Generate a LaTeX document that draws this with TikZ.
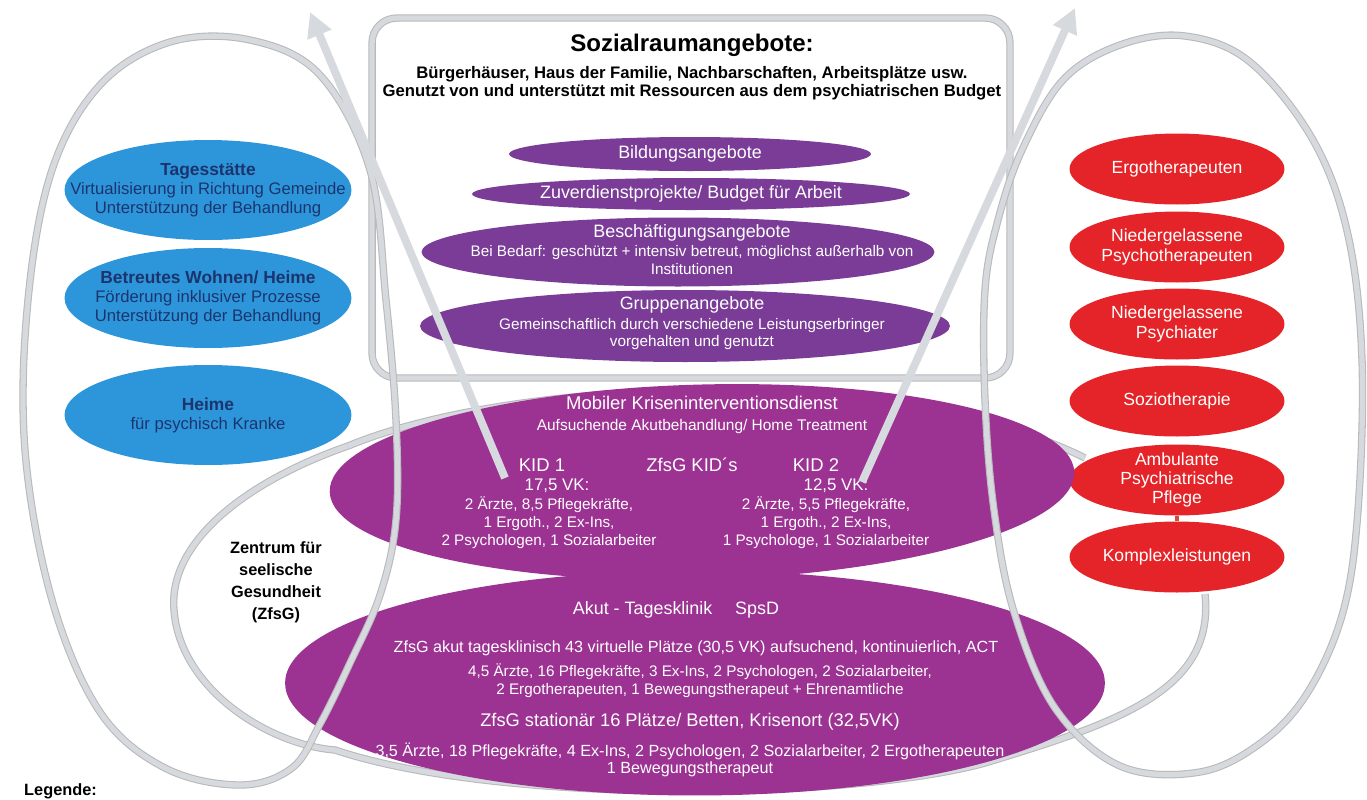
\documentclass[tikz,border=0pt]{standalone}
\usepackage{fontspec}
\setmainfont{Liberation Sans}
\usepackage{tikz}
\usetikzlibrary{arrows.meta,shapes.geometric}

\definecolor{zblue}{RGB}{45,150,218}
\definecolor{znavy}{RGB}{28,52,110}
\definecolor{zred}{RGB}{228,36,40}
\definecolor{zviolet}{RGB}{122,60,150}
\definecolor{zmagenta}{RGB}{156,50,146}
\definecolor{zgrey}{RGB}{214,217,222}

\newcommand{\zfont}[2]{\fontsize{#1}{#2}\selectfont}

\begin{document}
\begin{tikzpicture}[x=0.02cm, y=-0.02cm,
  band/.style={draw=gray!55, line width=0.6pt, double=zgrey, double distance=3pt},
  uparr/.style={draw=zgrey, line width=4.5pt, -{Triangle[width=14pt,length=14pt]}},
  blueell/.style={ellipse, fill=zblue, inner sep=0pt, minimum width=5.74cm, minimum height=2cm},
  redell/.style={ellipse, fill=zred, inner sep=0pt, minimum width=4.3cm, minimum height=1.42cm,
                 text=white, align=center, font=\zfont{10}{11.5}},
  violetell/.style={ellipse, fill=zviolet, inner sep=0pt, text=white, font=\zfont{10.2}{11.5}},
  bigell/.style={ellipse, fill=zmagenta, inner sep=0pt},
  bluetxt/.style={text=znavy, align=center, font=\zfont{9.5}{10.8}},
  redtxt/.style={text=white, align=center, font=\zfont{10}{11.5}},
  wtxt/.style={text=white, align=center, font=\zfont{8.7}{10.2}},
  wbig/.style={text=white, align=center, font=\zfont{10.2}{11.5}},
  btxt/.style={text=black, align=center, font=\bfseries\zfont{9.3}{12.5}},
]
\useasboundingbox (0,0) rectangle (1367,799);

%% ===== ZfsG boundary (behind the ellipses) =====
\draw[band] (348,446) .. controls (250,480) and (168,540) .. (174,610)
  .. controls (180,690) and (270,745) .. (335,750)
  .. controls (500,805) and (850,800) .. (985,763)
  .. controls (1120,722) and (1215,690) .. (1205,594);
\draw[band] (348,446) .. controls (520,375) and (900,365) .. (1085,458);

%% ===== Sozialraum box =====
\node[draw=gray!55, line width=0.6pt, double=zgrey, double distance=3pt,
      rounded corners=14pt, minimum width=12.76cm, minimum height=7.2cm]
  (sozbox) at (691,198) {};

\node[font=\bfseries\zfont{13.7}{15}] (title) at (692,45) {Sozialraumangebote:};
\node[font=\bfseries\zfont{9.5}{10.2}, align=center] (subtitle) at (692,83)
  {Bürgerhäuser, Haus der Familie, Nachbarschaften, Arbeitsplätze usw.\\
   Genutzt von und unterstützt mit Ressourcen aus dem psychiatrischen Budget};

\node[violetell, minimum width=7.24cm, minimum height=0.68cm] (bildung) at (690,154)
  {Bildungsangebote};
\node[violetell, minimum width=8.76cm, minimum height=0.64cm] (zuverd) at (691,194)
  {Zuverdienstprojekte/ Budget für Arbeit};
\node[violetell, minimum width=10.26cm, minimum height=1.38cm] (besch) at (678,252) {};
\node[violetell, minimum width=10.6cm, minimum height=1.44cm] (gruppe) at (685,326) {};

\node[wbig] (beschtitle) at (692,233) {Beschäftigungsangebote};
\node[wtxt] (beschtxt) at (692,260)
  {Bei Bedarf: geschützt + intensiv betreut, möglichst außerhalb von\\Institutionen};
\node[wbig] (gruppetitle) at (692,305) {Gruppenangebote};
\node[wtxt] (gruppetxt) at (692,334)
  {Gemeinschaftlich durch verschiedene Leistungserbringer\\vorgehalten und genutzt};

%% ===== blue: left =====
\node[blueell] (tages) at (208,190) {};
\node[blueell] (wohnen) at (208,298) {};
\node[blueell] (heime) at (208,415) {};

\node[bluetxt] (tagestxt) at (tages)
  {\textbf{\zfont{9.9}{11}Tagesstätte}\\Virtualisierung in Richtung Gemeinde\\Unterstützung der Behandlung};
\node[bluetxt] (wohnentxt) at (wohnen)
  {\textbf{\zfont{9.9}{11}Betreutes Wohnen/ Heime}\\Förderung inklusiver Prozesse\\Unterstützung der Behandlung};
\node[bluetxt] (heimetxt) at (heime)
  {\textbf{\zfont{9.9}{11}Heime}\\für psychisch Kranke};

%% ===== red: right =====
\node[redell] (ergo) at (1177,169) {Ergotherapeuten};
\node[redell] (psychoth) at (1177,247) {};
\node[redell] (psychiat) at (1177,324) {};
\node[redell] (sozio) at (1177,401) {Soziotherapie};
\node[redell] (app) at (1177,480) {};
\node[redell] (komplex) at (1177,557) {Komplexleistungen};

\node[redtxt] (psychothtxt) at (psychoth) {Niedergelassene\\Psychotherapeuten};
\node[redtxt] (psychiattxt) at (psychiat) {Niedergelassene\\Psychiater};
\node[redtxt, font=\zfont{10}{11}] (apptxt) at (app) {Ambulante\\Psychiatrische\\Pflege};

\draw[zred!55!brown, line width=2.5pt] (app.south) -- (komplex.north);

%% ===== ZfsG ellipses =====
\node[bigell, minimum width=16.4cm, minimum height=4.5cm] (akut) at (695,683) {};
\node[bigell, rotate=1.5, minimum width=14.9cm, minimum height=3.9cm] (kid) at (702,482) {};

\node[wbig, font=\zfont{10.5}{11.5}] (kidhead) at (702,415)
  {Mobiler Kriseninterventionsdienst\\{\zfont{8.8}{10}Aufsuchende Akutbehandlung/ Home Treatment}};
\node[text=white, font=\zfont{10.5}{12}] (kid1) at (542,465) {KID 1};
\node[text=white, font=\zfont{10.5}{12}] (kids) at (692,465) {ZfsG KID´s};
\node[text=white, font=\zfont{10.5}{12}] (kid2) at (816,465) {KID 2};
\node[text=white, font=\zfont{9.6}{12}] (vk1) at (557,486) {17,5 VK:};
\node[text=white, font=\zfont{9.6}{12}] (vk2) at (836,486) {12,5 VK:};
\node[wtxt] (kid1txt) at (549,523)
  {2 Ärzte, 8,5 Pflegekräfte,\\1 Ergoth., 2 Ex-Ins,\\2 Psychologen, 1 Sozialarbeiter};
\node[wtxt] (kid2txt) at (826,523)
  {2 Ärzte, 5,5 Pflegekräfte,\\1 Ergoth., 2 Ex-Ins,\\1 Psychologe, 1 Sozialarbeiter};

\node[wbig] (akuthead) at (676,610) {Akut - Tagesklinik\quad\ SpsD};
\node[text=white, font=\zfont{9.2}{10}] (akut1) at (696,648)
  {ZfsG akut tagesklinisch 43 virtuelle Plätze (30,5 VK) aufsuchend, kontinuierlich, ACT};
\node[wtxt] (akut2) at (700,681)
  {4,5 Ärzte, 16 Pflegekräfte, 3 Ex-Ins, 2 Psychologen, 2 Sozialarbeiter,\\
   2 Ergotherapeuten, 1 Bewegungstherapeut + Ehrenamtliche};
\node[text=white, font=\zfont{10.4}{11}] (stat) at (690,722)
  {ZfsG stationär 16 Plätze/ Betten, Krisenort (32,5VK)};
\node[wtxt, font=\zfont{9.2}{10}] (stattxt) at (690,760)
  {3,5 Ärzte, 18 Pflegekräfte, 4 Ex-Ins, 2 Psychologen, 2 Sozialarbeiter, 2 Ergotherapeuten\\
   1 Bewegungstherapeut};

%% ===== outer loops =====
\draw[band] plot[smooth cycle, tension=0.6] coordinates {
  (370,170) (386,300) (396,420) (396,520) (380,595) (350,663) (320,724)
  (292,768) (240,785) (165,768) (100,712) (52,600) (25,450) (28,300)
  (52,170) (100,85) (170,42) (250,40) (320,75)};
\draw[band] plot[smooth cycle, tension=0.6] coordinates {
  (985,290) (998,220) (1022,150) (1063,80) (1120,45) (1185,36) (1250,62)
  (1313,140) (1348,235) (1362,360) (1358,510) (1343,612) (1308,692)
  (1262,742) (1200,772) (1120,766) (1055,708) (1014,612) (994,510) (985,400)};

\node[btxt] (zfsg) at (276,582) {Zentrum für\\seelische\\Gesundheit\\(ZfsG)};
\node[font=\bfseries\zfont{9.3}{11}, anchor=west] (legende) at (18,791) {Legende:};

%% ===== arrows =====
\coordinate (tail1) at (505,478);
\coordinate (top1) at (310,12);
\coordinate (tail2) at (862,482);
\coordinate (top2) at (1075,8);
\draw[uparr] (tail1) -- (top1);
\draw[uparr] (tail2) -- (top2);

\end{tikzpicture}
\end{document}
